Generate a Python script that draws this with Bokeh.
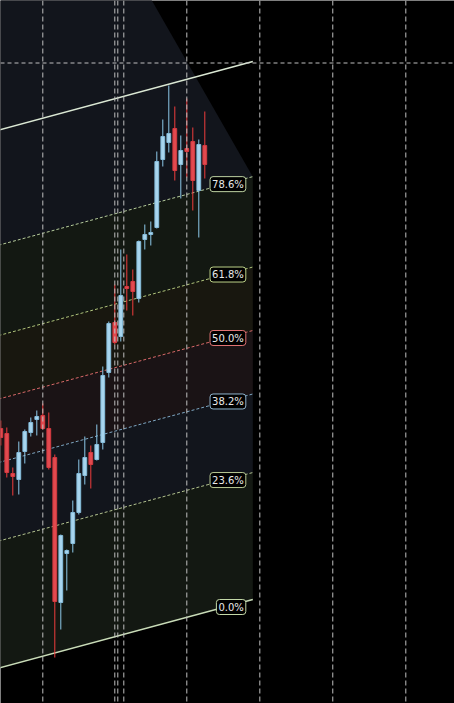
from bokeh.plotting import figure
from bokeh.models import ColumnDataSource, Span
from bokeh.core.properties import value
from bokeh.embed import file_html
from bokeh.resources import INLINE

# ---------------- data ----------------
bar_index = list(range(35))
opens  = [572, 567, 527, 521, 549, 568, 581, 585, 572, 543, 398, 447, 457, 488, 525, 548, 541, 558,
          628, 678, 664, 714, 719, 702, 761, 766, 773, 841, 858, 872, 836, 852, 859, 810, 855]
highs  = [580, 573, 533, 559, 571, 583, 590, 597, 588, 546, 466, 451, 500, 541, 564, 555, 576, 634,
          679, 716, 751, 746, 731, 760, 776, 779, 849, 881, 915, 894, 865, 902, 873, 861, 889]
lows   = [555, 523, 505, 506, 537, 564, 565, 571, 531, 343, 371, 410, 448, 486, 516, 512, 540, 551,
          623, 656, 659, 690, 685, 698, 751, 755, 772, 834, 848, 820, 802, 823, 790, 763, 822]
closes = [563, 528, 524, 548, 569, 578, 584, 572, 533, 399, 465, 450, 488, 527, 543, 536, 556, 625,
          677, 658, 705, 712, 709, 759, 766, 768, 839, 864, 867, 830, 850, 849, 820, 856, 836]

# Fibonacci channel (anchor bars, base-line prices, channel height)
chan_x = [-2, 42]
chan_base = [329.8, 401]
chan_height = 538
fib_levels = [0.0, 0.236, 0.382, 0.5, 0.618, 0.786, 1.0]
fib_labels = ["0.0%", "23.6%", "38.2%", "50.0%", "61.8%", "78.6%", ""]
fib_line_colors = ["#c9dcb8", "#b3c390", "#7fa8c4", "#d86a6a", "#b0c47c", "#b6cc9c", "#dbe8d4"]
fib_box_colors = ["#c4d9a8", "#b9c994", "#8fb3cc", "#e07272", "#bcd188", "#bdd2a2", "#dbe8d4"]
fib_fills = ["#131812", "#12151c", "#1a1315", "#18170f", "#131812"]
# odd top fill region of the channel (apex bar / price)
apex_bar = 14
apex_price = 1117
top_fill = "#12151c"

vlines_x = [7, 19, 19.5, 20.5, 31, 43.17, 55.33, 67.5]
hline_y = 937.5

# ---------------- figure ----------------
p = figure(width=454, height=703, x_range=(-0.05, 75.6167), y_range=(297, 1000),
           output_backend="svg", toolbar_location=None, min_border=0,
           x_axis_location=None, y_axis_location=None,
           background_fill_color="#000000", border_fill_color="#000000",
           outline_line_color=None)
p.grid.visible = False

def lvl(l, k):
    return chan_base[k] + l * chan_height

# band fills
for j in range(5):
    lo, hi = fib_levels[j], fib_levels[j + 1]
    p.patch([chan_x[0], chan_x[1], chan_x[1], chan_x[0]],
            [lvl(lo, 0), lvl(lo, 1), lvl(hi, 1), lvl(hi, 0)],
            fill_color=fib_fills[j], line_color=None)
# top region (78.6% -> above)
l5 = fib_levels[5]
p.patch([chan_x[0], chan_x[1], apex_bar, chan_x[0]],
        [lvl(l5, 0), lvl(l5, 1), apex_price, apex_price],
        fill_color=top_fill, line_color=None)

# grid-like dashed lines
for vx in vlines_x:
    p.add_layout(Span(location=vx, dimension="height", line_color="#bfbfbf",
                      line_width=1, line_dash="5 3"))
p.add_layout(Span(location=hline_y, dimension="width", line_color="#bfbfbf",
                  line_width=1, line_dash="4 3"))

# fib lines
for j, l in enumerate(fib_levels):
    solid = l in (0.0, 1.0)
    p.line([chan_x[0], chan_x[1]], [lvl(l, 0), lvl(l, 1)],
           line_color=fib_line_colors[j], line_width=1.5 if solid else 1,
           line_dash="solid" if solid else "3 2")

# candles
up = [c >= o for o, c in zip(opens, closes)]
src = ColumnDataSource(dict(
    x=bar_index, o=opens, h=highs, l=lows, c=closes,
    top=[max(o, c) for o, c in zip(opens, closes)],
    bot=[min(o, c) for o, c in zip(opens, closes)],
    wick=["#8ec9ea" if u else "#f03c3c" for u in up],
    fill=["#a8d5ee" if u else "#e24a4f" for u in up],
    edge=["#86bddc" if u else "#d63a40" for u in up],
))
p.segment(x0="x", y0="h", x1="x", y1="l", line_color="wick", line_width=1, source=src)
p.vbar(x="x", top="top", bottom="bot", width=0.63, fill_color="fill",
       line_color="edge", line_width=1, source=src)

# labels
lab_idx = [j for j, t in enumerate(fib_labels) if t]
lsrc = ColumnDataSource(dict(
    x=[chan_x[1]] * len(lab_idx),
    y=[lvl(fib_levels[j], 1) for j in lab_idx],
    t=[fib_labels[j] for j in lab_idx],
    bc=[fib_box_colors[j] for j in lab_idx],
))
p.text(x="x", y="y", text="t", source=lsrc, anchor="top_right", x_offset=-7, y_offset=0,
       text_font=value("DejaVu Sans"), text_font_size="10px", text_color="#e8e8e8",
       background_fill_color="#000000", border_line_color="bc", border_line_width=1,
       border_radius=3, padding=2)

html = file_html(p, INLINE)
open("out.html", "w").write(html)
